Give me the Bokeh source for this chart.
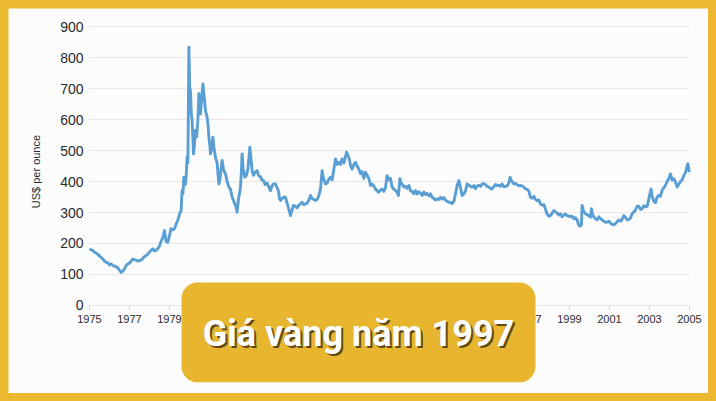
import math
from bokeh.plotting import figure
from bokeh.models import Range1d, FixedTicker, BoxAnnotation, Label
from bokeh.embed import file_html
from bokeh.resources import INLINE

# ---- data ----
years = [
    1975.00, 1975.08, 1975.17, 1975.25, 1975.33, 1975.42, 1975.50, 1975.58, 1975.67, 1975.75, 1975.83, 1975.92,
    1976.00, 1976.08, 1976.17, 1976.25, 1976.33, 1976.42, 1976.50, 1976.58, 1976.67, 1976.75, 1976.83, 1976.92,
    1977.00, 1977.08, 1977.17, 1977.25, 1977.33, 1977.42, 1977.50, 1977.58, 1977.67, 1977.75, 1977.83, 1977.92,
    1978.00, 1978.08, 1978.17, 1978.25, 1978.33, 1978.42, 1978.50, 1978.58, 1978.67, 1978.75, 1978.83, 1978.92,
    1979.00, 1979.08, 1979.17, 1979.25, 1979.33, 1979.42, 1979.50, 1979.58, 1979.63, 1979.67, 1979.72, 1979.79,
    1979.83, 1979.88, 1979.92, 1979.97,
    1980.01, 1980.05, 1980.09, 1980.13, 1980.17, 1980.20, 1980.25, 1980.30, 1980.36, 1980.42, 1980.47, 1980.52,
    1980.55, 1980.60, 1980.67, 1980.72, 1980.77, 1980.80, 1980.88, 1980.93, 1980.97,
    1981.02, 1981.05, 1981.10, 1981.17, 1981.22, 1981.30, 1981.38, 1981.43, 1981.47, 1981.53, 1981.58, 1981.63,
    1981.70, 1981.75, 1981.80, 1981.88, 1981.97,
    1982.05, 1982.13, 1982.20, 1982.28, 1982.33, 1982.38, 1982.45, 1982.50, 1982.55, 1982.60, 1982.63, 1982.68,
    1982.72, 1982.77, 1982.85, 1982.92,
    1983.02, 1983.08, 1983.13, 1983.20, 1983.28, 1983.38, 1983.45, 1983.55, 1983.62, 1983.70, 1983.78, 1983.88, 1983.97,
    1984.05, 1984.12, 1984.20, 1984.30, 1984.38, 1984.45, 1984.50, 1984.55, 1984.63, 1984.72, 1984.80, 1984.88, 1984.97,
    1985.05, 1985.12, 1985.20, 1985.30, 1985.38, 1985.45, 1985.55, 1985.63, 1985.72, 1985.80, 1985.88, 1985.97,
    1986.05, 1986.13, 1986.22, 1986.30, 1986.38, 1986.47, 1986.55, 1986.63, 1986.70, 1986.80, 1986.88, 1986.97,
    1987.05, 1987.13, 1987.22, 1987.30, 1987.38, 1987.47, 1987.55, 1987.63, 1987.72, 1987.80, 1987.85, 1987.92,
    1988.00, 1988.05, 1988.13, 1988.22, 1988.30, 1988.38, 1988.47, 1988.55, 1988.63, 1988.72, 1988.80, 1988.88, 1988.97,
    1989.05, 1989.13, 1989.22, 1989.30, 1989.38, 1989.45, 1989.55, 1989.63, 1989.72, 1989.80, 1989.88, 1989.97,
    1990.05, 1990.13, 1990.22, 1990.30, 1990.38, 1990.45, 1990.52, 1990.58, 1990.65, 1990.72, 1990.80, 1990.88, 1990.97,
    1991.05, 1991.13, 1991.22, 1991.30, 1991.38, 1991.47, 1991.55, 1991.63, 1991.72, 1991.80, 1991.88, 1991.97,
    1992.05, 1992.13, 1992.22, 1992.30, 1992.38, 1992.47, 1992.55, 1992.63, 1992.72, 1992.80, 1992.88, 1992.97,
    1993.05, 1993.13, 1993.22, 1993.30, 1993.38, 1993.47, 1993.55, 1993.63, 1993.72, 1993.80, 1993.88, 1993.97,
    1994.05, 1994.13, 1994.22, 1994.30, 1994.38, 1994.47, 1994.55, 1994.63, 1994.72, 1994.80, 1994.88, 1994.97,
    1995.05, 1995.13, 1995.22, 1995.30, 1995.38, 1995.47, 1995.55, 1995.63, 1995.72, 1995.80, 1995.88, 1995.97,
    1996.03, 1996.08, 1996.13, 1996.22, 1996.30, 1996.38, 1996.47, 1996.55, 1996.63, 1996.72, 1996.80, 1996.88, 1996.97,
    1997.05, 1997.13, 1997.22, 1997.30, 1997.38, 1997.47, 1997.55, 1997.63, 1997.72, 1997.80, 1997.88, 1997.97,
    1998.05, 1998.13, 1998.22, 1998.30, 1998.38, 1998.47, 1998.55, 1998.63, 1998.72, 1998.80, 1998.88, 1998.97,
    1999.05, 1999.13, 1999.22, 1999.30, 1999.38, 1999.47, 1999.55, 1999.60, 1999.63, 1999.70, 1999.80, 1999.88, 1999.97,
    2000.05, 2000.10, 2000.15, 2000.22, 2000.30, 2000.38, 2000.47, 2000.55, 2000.63, 2000.72, 2000.80, 2000.88, 2000.97,
    2001.05, 2001.13, 2001.22, 2001.30, 2001.38, 2001.47, 2001.55, 2001.63, 2001.72, 2001.80, 2001.88, 2001.97,
    2002.05, 2002.13, 2002.22, 2002.30, 2002.38, 2002.47, 2002.55, 2002.63, 2002.72, 2002.80, 2002.88, 2002.97,
    2003.05, 2003.08, 2003.13, 2003.22, 2003.30, 2003.38, 2003.47, 2003.55, 2003.63, 2003.72, 2003.80, 2003.88, 2003.97,
    2004.05, 2004.13, 2004.22, 2004.30, 2004.38, 2004.47, 2004.55, 2004.63, 2004.72, 2004.80, 2004.88, 2004.92, 2004.97,
    2005.00,
]
prices = [
    183, 180, 177, 172, 169, 165, 160, 155, 150, 143, 140, 137,
    131, 134, 129, 127, 125, 121, 114, 107, 111, 118, 129, 134,
    137, 143, 150, 148, 146, 143, 145, 146, 152, 158, 161, 166,
    172, 178, 183, 176, 178, 184, 192, 207, 220, 242, 206, 204,
    226, 248, 244, 248, 262, 276, 295, 306, 371, 360, 414, 390,
    414, 478, 460, 833,
    704, 690, 620, 597, 540, 489, 520, 565, 545, 600, 683, 640,
    618, 660, 715, 680, 650, 629, 607, 580, 543,
    515, 489, 505, 543, 510, 478, 460, 420, 392, 410, 440, 468,
    440, 430, 425, 400, 382,
    375, 350, 339, 325, 318, 301, 345, 360, 382, 440, 489, 440,
    430, 414, 420, 440,
    511, 470, 435, 420, 430, 435, 420, 415, 405, 403, 390, 395, 382,
    370, 385, 392, 392, 380, 370, 345, 339, 345, 350, 349, 330, 310,
    290, 305, 323, 320, 315, 322, 328, 333, 325, 328, 330, 340,
    355, 345, 342, 339, 342, 355, 375, 435, 410, 392, 395, 408,
    414, 405, 440, 473, 455, 462, 455, 473, 460, 480, 495, 485,
    470, 452, 440, 455, 462, 450, 440, 425, 432, 410, 430, 420, 410,
    387, 392, 385, 375, 371, 365, 372, 376, 368, 380, 419, 405,
    410, 382, 375, 371, 365, 355, 409, 395, 390, 382, 385, 378, 387,
    370, 368, 360, 371, 360, 367, 362, 355, 366, 358, 362, 354,
    360, 349, 345, 340, 344, 342, 349, 343, 348, 340, 336, 333,
    333, 329, 336, 360, 387, 403, 380, 355, 360, 370, 392, 388,
    384, 382, 387, 377, 385, 388, 384, 392, 393, 390, 384, 382,
    378, 376, 384, 390, 387, 388, 385, 392, 383, 384, 386, 395,
    414, 405, 400, 392, 394, 390, 386, 387, 386, 382, 376, 375, 368,
    349, 346, 352, 343, 338, 340, 328, 324, 325, 310, 295, 288,
    290, 298, 306, 302, 298, 292, 296, 286, 292, 295, 290, 288,
    286, 288, 280, 283, 276, 258, 256, 262, 323, 305, 296, 293, 290,
    285, 312, 295, 285, 280, 276, 286, 280, 276, 272, 268, 269, 272,
    266, 262, 260, 264, 270, 276, 272, 278, 290, 284, 276, 278,
    282, 296, 302, 308, 320, 320, 310, 312, 322, 318, 320, 345,
    368, 376, 352, 336, 332, 350, 356, 352, 372, 380, 388, 400, 410,
    425, 405, 409, 398, 382, 392, 400, 405, 420, 428, 450, 457, 438,
    430,
]
x_ticks = [1975, 1977, 1979, 1981, 1983, 1985, 1987, 1989, 1991, 1993, 1995, 1997, 1999, 2001, 2003, 2005]
y_ticks = [0, 100, 200, 300, 400, 500, 600, 700, 800, 900]
y_axis_title = "US$ per ounce"
banner_text = "Giá vàng năm 1997"

FONT = "Liberation Sans"
BG = "#FCFCFC"

# the frame covers the whole figure so that the banner, which overlaps
# the axis area, is not clipped; both axes are pinned at data locations
p = figure(width=700, height=385, output_backend="svg", toolbar_location=None,
           x_range=Range1d(1970.95, 2005.95), y_range=Range1d(-283.9, 958.1),
           min_border_left=0, min_border_right=0, min_border_top=0, min_border_bottom=0,
           background_fill_color=BG, border_fill_color=BG)
p.outline_line_color = None

p.line(years, prices, line_color="#5A9FD4", line_width=2.9, line_join="round")

# axes
p.xaxis.ticker = FixedTicker(ticks=x_ticks)
p.yaxis.ticker = FixedTicker(ticks=y_ticks)
p.xaxis.fixed_location = y_ticks[0]
p.yaxis.fixed_location = x_ticks[0]
p.xgrid.grid_line_color = None
p.ygrid.grid_line_color = "#E8E8E8"
p.ygrid.grid_line_width = 1
try:
    p.ygrid.cross_bounds = (x_ticks[0], x_ticks[-1])
except Exception:
    pass

p.xaxis.axis_line_color = None
p.xaxis.major_tick_line_color = "#D8D8D8"
p.xaxis.major_tick_out = 5
p.xaxis.major_tick_in = 0
p.xaxis.minor_tick_line_color = None
p.xaxis.major_label_standoff = 5
p.xaxis.major_label_text_font = FONT
p.xaxis.major_label_text_font_size = "11px"
p.xaxis.major_label_text_color = "#2A2A2A"

p.yaxis.axis_line_color = None
p.yaxis.major_tick_line_color = None
p.yaxis.minor_tick_line_color = None
p.yaxis.major_tick_out = 0
p.yaxis.major_tick_in = 0
p.yaxis.major_label_standoff = 6
p.yaxis.major_label_text_font = FONT
p.yaxis.major_label_text_font_size = "14px"
p.yaxis.major_label_text_color = "#2A2A2A"

# y axis title (rotated), placed beside the tick labels
ytitle = Label(x=1972.3, y=432, text=y_axis_title, angle=math.pi / 2,
               text_font=FONT, text_font_size="11px", text_color="#2A2A2A",
               text_align="center", text_baseline="middle")
p.add_layout(ytitle)

# banner box + text
box = BoxAnnotation(left=1979.6, right=1997.3, top=74, bottom=-248,
                    fill_color="#E8B52F", fill_alpha=1.0, line_color=None,
                    border_radius=16, level="overlay")
p.add_layout(box)

BANNER_FONT = "Roboto"
shadow = Label(x=1988.45, y=-93, x_offset=2, y_offset=-2, text=banner_text,
               text_font=BANNER_FONT, text_font_style="bold",
               text_font_size="36px", text_color="#4A3510", text_alpha=0.85,
               text_align="center", text_baseline="alphabetic", level="overlay")
label = Label(x=1988.45, y=-93, text=banner_text,
              text_font=BANNER_FONT, text_font_style="bold",
              text_font_size="36px", text_color="#FFFFFF",
              text_align="center", text_baseline="alphabetic", level="overlay")
p.add_layout(shadow)
p.add_layout(label)

template = """
{% block postamble %}
<style>
html { background: #EBB830; }
body { margin: 8px !important; padding: 0; height: auto !important; background: #EBB830; }
</style>
{% endblock %}
"""

open("out.html", "w").write(file_html(p, INLINE, template=template))
